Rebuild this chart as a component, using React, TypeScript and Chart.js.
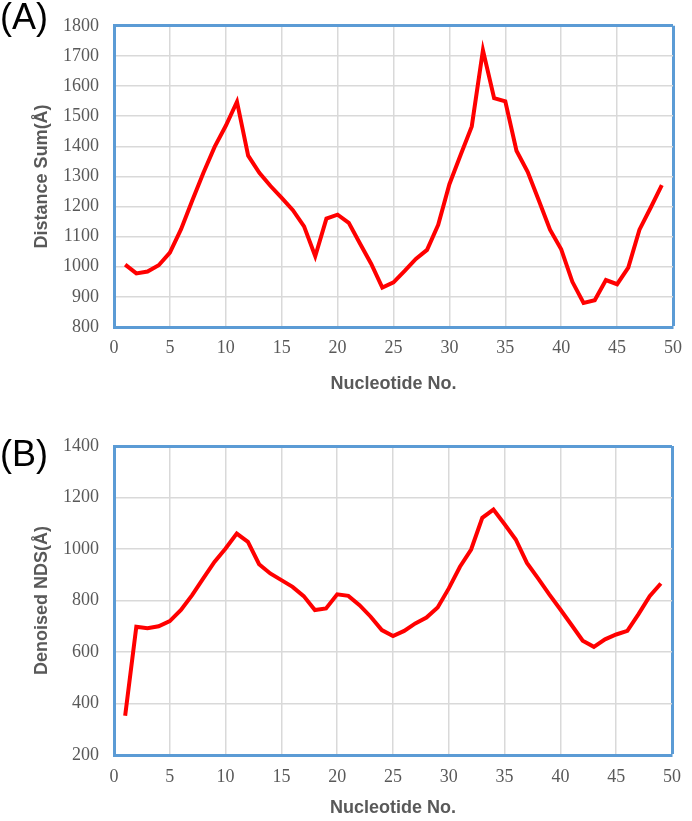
import React, { useEffect, useRef } from "react";
import { Chart, registerables } from "chart.js";

Chart.register(...registerables);

// ---- data ----
const nucleotideNo = [
  1, 2, 3, 4, 5, 6, 7, 8, 9, 10, 11, 12, 13, 14, 15, 16, 17, 18, 19, 20, 21, 22, 23, 24, 25,
  26, 27, 28, 29, 30, 31, 32, 33, 34, 35, 36, 37, 38, 39, 40, 41, 42, 43, 44, 45, 46, 47, 48, 49,
];

const distanceSum = [
  1007, 978, 984, 1005, 1047, 1125, 1220, 1312, 1398, 1468, 1548, 1369, 1312, 1268, 1229, 1188,
  1134, 1035, 1160, 1173, 1146, 1077, 1010, 931, 948, 986, 1026, 1056, 1139, 1274, 1371, 1466,
  1719, 1560, 1549, 1385, 1315, 1220, 1123, 1058, 950, 880, 889, 956, 942, 997, 1123, 1196, 1271,
];

const denoisedNDS = [
  352, 698, 692, 700, 720, 763, 821, 886, 950, 1002, 1060, 1028, 941, 905, 879, 853, 817, 763,
  769, 824, 818, 782, 737, 685, 662, 682, 711, 734, 773, 847, 931, 998, 1121, 1153, 1096, 1037,
  946, 886, 824, 765, 705, 644, 620, 649, 668, 682, 747, 817, 866,
];

const xAxis = { min: 0, max: 50, step: 5, title: "Nucleotide No." };
const yAxisA = { min: 800, max: 1800, step: 100, title: "Distance Sum(Å)" };
const yAxisB = { min: 200, max: 1400, step: 200, title: "Denoised NDS(Å)" };

// ---- styles ----
const BLUE = "#5b9bd5";
const GRID = "#d9d9d9";
const RED = "#ff0000";
const TEXT = "#595959";

type Geo = {
  height: number;
  padTop: number;
  padRight: number;
  yAxisWidth: number;
  xAxisHeight: number;
  xTickPad: number;
  xTitlePadBottom: number;
  yTitlePadTop: number;
};

function makeConfig(values: number[], yAx: { min: number; max: number; step: number; title: string }, g: Geo): any {
  return {
    type: "line",
    data: {
      datasets: [
        {
          data: nucleotideNo.map((x, i) => ({ x, y: values[i] })),
          borderColor: RED,
          backgroundColor: RED,
          borderWidth: 4,
          pointRadius: 0,
          tension: 0,
          fill: false,
        },
      ],
    },
    options: {
      responsive: false,
      animation: false,
      maintainAspectRatio: false,
      layout: { padding: { top: g.padTop, right: g.padRight, left: 0, bottom: 0 } },
      plugins: { legend: { display: false }, tooltip: { enabled: false } },
      scales: {
        x: {
          type: "linear",
          min: xAxis.min,
          max: xAxis.max,
          afterFit: (s: any) => {
            s.height = g.xAxisHeight;
          },
          ticks: {
            stepSize: xAxis.step,
            padding: g.xTickPad,
            color: TEXT,
            font: { family: "'Liberation Serif', 'Times New Roman', serif", size: 18 },
            maxRotation: 0,
            callback: (v: any) => String(v),
          },
          grid: {
            drawTicks: false,
            color: (c: any) => (c.tick && c.tick.value === xAxis.max ? BLUE : GRID),
            lineWidth: (c: any) => (c.tick && c.tick.value === xAxis.max ? 3 : 1.5),
          },
          border: { display: true, color: BLUE, width: 3 },
          title: {
            display: true,
            text: xAxis.title,
            color: TEXT,
            font: { family: "'Liberation Sans', Arial, sans-serif", size: 18, weight: "bold" },
            padding: { top: 0, bottom: g.xTitlePadBottom },
          },
        },
        y: {
          type: "linear",
          min: yAx.min,
          max: yAx.max,
          afterFit: (s: any) => {
            s.width = g.yAxisWidth;
          },
          ticks: {
            stepSize: yAx.step,
            padding: 15,
            color: TEXT,
            font: { family: "'Liberation Serif', 'Times New Roman', serif", size: 18 },
            callback: (v: any) => String(v),
          },
          grid: {
            drawTicks: false,
            color: (c: any) => (c.tick && c.tick.value === yAx.max ? BLUE : GRID),
            lineWidth: (c: any) => (c.tick && c.tick.value === yAx.max ? 3 : 1.5),
          },
          border: { display: true, color: BLUE, width: 3 },
          title: {
            display: true,
            text: yAx.title,
            color: TEXT,
            font: { family: "'Liberation Sans', Arial, sans-serif", size: 18, weight: "bold" },
            padding: { top: g.yTitlePadTop, bottom: 0 },
          },
        },
      },
    },
  };
}

function Panel(props: { values: number[]; yAx: any; geo: Geo; top: number; label: string; labelTop: number }) {
  const ref = useRef<HTMLCanvasElement | null>(null);
  useEffect(() => {
    if (!ref.current) return;
    const chart = new Chart(ref.current, makeConfig(props.values, props.yAx, props.geo));
    return () => chart.destroy();
  }, []);
  return (
    <>
      <canvas
        ref={ref}
        width={692}
        height={props.geo.height}
        style={{ position: "absolute", left: 0, top: props.top, width: 692, height: props.geo.height }}
      />
      <div
        style={{
          position: "absolute",
          left: 0,
          top: props.labelTop,
          fontFamily: "'Liberation Sans', Arial, sans-serif",
          fontSize: 36,
          lineHeight: 1,
          color: "#000",
        }}
      >
        {props.label}
      </div>
    </>
  );
}

export default function App() {
  const geoA: Geo = {
    height: 410,
    padTop: 17,
    padRight: 11,
    yAxisWidth: 114,
    xAxisHeight: 83,
    xTickPad: 10,
    xTitlePadBottom: 15,
    yTitlePadTop: 31,
  };
  const geoB: Geo = {
    height: 411,
    padTop: 36,
    padRight: 11,
    yAxisWidth: 114,
    xAxisHeight: 66,
    xTickPad: 11,
    xTitlePadBottom: 2,
    yTitlePadTop: 31,
  };
  return (
    <div style={{ position: "absolute", left: 0, top: 0, width: 692, height: 821, background: "#fff" }}>
      <Panel values={distanceSum} yAx={yAxisA} geo={geoA} top={0} label="(A)" labelTop={-1} />
      <Panel values={denoisedNDS} yAx={yAxisB} geo={geoB} top={410} label="(B)" labelTop={436} />
    </div>
  );
}
